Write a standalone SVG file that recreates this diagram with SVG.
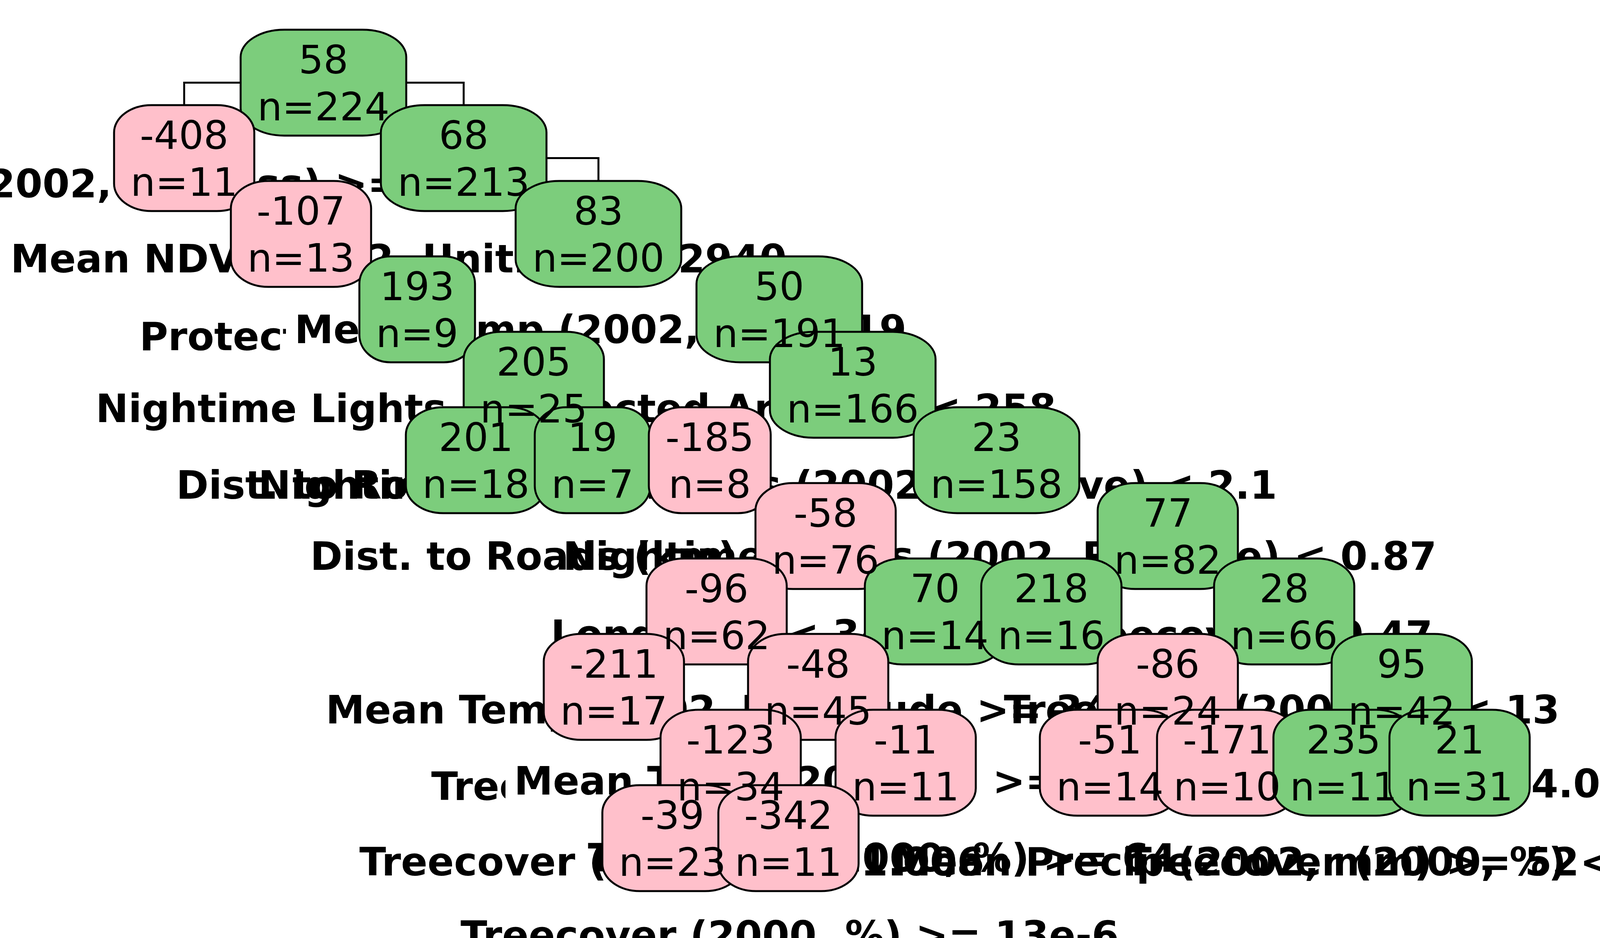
<svg xmlns="http://www.w3.org/2000/svg" width="4200" height="2400" viewBox="0 0 4200 2400">
<style>
.bgc{fill:#ffffff}
.cn{fill:none;stroke:#000;stroke-width:5}
.box{stroke:#000;stroke-width:5}
.g{fill:#7CCD7C}
.p{fill:#FFC0CB}
.v{font-family:"DejaVu Sans",sans-serif;font-size:100px;text-anchor:middle;fill:#000}
.lb{font-family:"DejaVu Sans",sans-serif;font-weight:bold;font-size:100px;fill:#000}
.ob{fill:#ffffff}
</style>
<rect x="0" y="0" width="4200" height="2400" fill="#ffffff"/>
<g id="connectors" class="cn">
<path d="M471.5,269 V211.5 H1187 V269"/>
<path d="M770.5,463 V404.5 H1532 V463"/>
<path d="M1068,656 V598.5 H1995 V656"/>
<path d="M1366.5,849 V791.5 H2183 V849"/>
<path d="M1218.5,1042 V984.5 H1517 V1042"/>
<path d="M1817,1042 V984.5 H2551 V1042"/>
<path d="M2113.5,1236 V1177.5 H2989.5 V1236"/>
<path d="M1834.5,1429 V1371.5 H2393.5 V1429"/>
<path d="M2691.5,1429 V1371.5 H3287.5 V1429"/>
<path d="M1571.5,1622 V1564.5 H2094.5 V1622"/>
<path d="M2989.5,1622 V1564.5 H3588.5 V1622"/>
<path d="M1870.5,1816 V1757.5 H2318.5 V1816"/>
<path d="M2841.5,1816 V1757.5 H3141.5 V1816"/>
<path d="M3439.5,1816 V1757.5 H3736.5 V1816"/>
<path d="M1721.5,2009 V1951.5 H2018.5 V2009"/>
</g>
<g id="label-backgrounds" class="bgc">
<rect x="-755" y="395" width="2115" height="145"/>
<rect x="5" y="587" width="2031" height="145"/>
<rect x="335" y="786" width="1567" height="145"/>
<rect x="732" y="768" width="1592" height="145"/>
<rect x="223" y="970" width="1356" height="145"/>
<rect x="1243" y="970" width="1483" height="145"/>
<rect x="429" y="1166" width="1548" height="145"/>
<rect x="639" y="1166" width="1426" height="145"/>
<rect x="1080" y="1166" width="2212" height="145"/>
<rect x="772" y="1348" width="1465" height="145"/>
<rect x="1419" y="1348" width="2281" height="145"/>
<rect x="1388" y="1550" width="904" height="145"/>
<rect x="2693" y="1550" width="1008" height="145"/>
<rect x="812" y="1741" width="1592" height="145"/>
<rect x="1875" y="1741" width="988" height="145"/>
<rect x="2548" y="1741" width="1478" height="145"/>
<rect x="1082" y="1937" width="1561" height="145"/>
<rect x="1294" y="1923" width="1592" height="145"/>
<rect x="2812" y="1930" width="1457" height="145"/>
<rect x="898" y="2130" width="1655" height="145"/>
<rect x="1483" y="2120" width="1561" height="145"/>
<rect x="2262" y="2130" width="1780" height="145"/>
<rect x="2858" y="2130" width="1478" height="145"/>
<rect x="1157" y="2318" width="1740" height="145"/>
</g>
<g id="split-labels" class="lb">
<text x="-733" y="505">Mean NDVI (2002, Unitless) &gt;= 2940</text>
<text x="27" y="697">Mean NDVI (2002, Unitless) &lt; 2940</text>
<text x="357" y="896">Protected Area (%) &gt;= 258</text>
<rect class="ob" x="732" y="768" width="1592" height="145"/>
<text x="754" y="878">Mean Temp (2002, C) &gt;= 19</text>
<text x="245" y="1080">Nightime Lights &gt;= 2.1</text>
<rect class="ob" x="1243" y="970" width="1483" height="145"/>
<text x="1265" y="1080">Protected Area (%) &lt; 258</text>
<text x="451" y="1276">Dist. to Roads (km) &gt;= 3.4</text>
<text x="661" y="1276">Nightime Lights &gt;= 0.87</text>
<rect class="ob" x="1080" y="1166" width="2212" height="145"/>
<text x="1102" y="1276">Nightime Lights (2002, Relative) &lt; 2.1</text>
<text x="794" y="1458">Dist. to Roads (km) &lt; 3.4</text>
<text x="1441" y="1458">Nightime Lights (2002, Relative) &lt; 0.87</text>
<text x="1410" y="1658">Longitude &lt; 34</text>
<text x="2715" y="1660">Treecover &lt; 0.47</text>
<text x="834" y="1851">Mean Temp (2002, C) &gt;= 22</text>
<rect class="ob" x="1875" y="1741" width="988" height="145"/>
<text x="1897" y="1851">Longitude &gt;= 34</text>
<text x="2570" y="1851">Treecover (2000, %) &lt; 13</text>
<text x="1104" y="2047">Treecover (2000, %) &gt;= 13</text>
<rect class="ob" x="1294" y="1923" width="1592" height="145"/>
<text x="1316" y="2033">Mean Temp (2002, C) &gt;= 22</text>
<text x="2834" y="2040">Treecover (%) &gt;= 14.001</text>
<text x="920" y="2240">Treecover (2000, %) &lt; 1.006</text>
<text x="1505" y="2230">Treecover (2000, %) &gt;= 64</text>
<text x="2284" y="2240">Mean Precip (2002, mm) &gt;= 52</text>
<text x="2880" y="2240">Treecover (2000, %) &lt; 64</text>
<text x="1179" y="2428">Treecover (2000, %) &gt;= 13e-6</text>
</g>
<g id="nodes" class="box">
<g id="node-1"><rect class="g" x="616" y="76" width="424" height="271" rx="112" ry="70"/></g>
<g id="node-2"><rect class="p" x="292" y="269" width="359" height="271" rx="96" ry="70"/></g>
<g id="node-3"><rect class="g" x="975" y="269" width="424" height="271" rx="112" ry="70"/></g>
<g id="node-6"><rect class="p" x="591" y="463" width="359" height="271" rx="96" ry="70"/></g>
<g id="node-7"><rect class="g" x="1320" y="463" width="424" height="271" rx="112" ry="70"/></g>
<g id="node-14"><rect class="g" x="920" y="656" width="296" height="271" rx="80" ry="70"/></g>
<g id="node-15"><rect class="g" x="1783" y="656" width="424" height="271" rx="112" ry="70"/></g>
<g id="node-30"><rect class="g" x="1187" y="849" width="359" height="271" rx="96" ry="70"/></g>
<g id="node-31"><rect class="g" x="1971" y="849" width="424" height="271" rx="112" ry="70"/></g>
<g id="node-60"><rect class="g" x="1039" y="1042" width="359" height="271" rx="96" ry="70"/></g>
<g id="node-61"><rect class="g" x="1369" y="1042" width="296" height="271" rx="80" ry="70"/></g>
<g id="node-62"><rect class="p" x="1661" y="1042" width="312" height="271" rx="84" ry="70"/></g>
<g id="node-63"><rect class="g" x="2339" y="1042" width="424" height="271" rx="112" ry="70"/></g>
<g id="node-126"><rect class="p" x="1934" y="1236" width="359" height="271" rx="96" ry="70"/></g>
<g id="node-127"><rect class="g" x="2810" y="1236" width="359" height="271" rx="96" ry="70"/></g>
<g id="node-252"><rect class="p" x="1655" y="1429" width="359" height="271" rx="96" ry="70"/></g>
<g id="node-253"><rect class="g" x="2214" y="1429" width="359" height="271" rx="96" ry="70"/></g>
<g id="node-254"><rect class="g" x="2512" y="1429" width="359" height="271" rx="96" ry="70"/></g>
<g id="node-255"><rect class="g" x="3108" y="1429" width="359" height="271" rx="96" ry="70"/></g>
<g id="node-504"><rect class="p" x="1392" y="1622" width="359" height="271" rx="96" ry="70"/></g>
<g id="node-505"><rect class="p" x="1915" y="1622" width="359" height="271" rx="96" ry="70"/></g>
<g id="node-510"><rect class="p" x="2810" y="1622" width="359" height="271" rx="96" ry="70"/></g>
<g id="node-511"><rect class="g" x="3409" y="1622" width="359" height="271" rx="96" ry="70"/></g>
<g id="node-1010"><rect class="p" x="1691" y="1816" width="359" height="271" rx="96" ry="70"/></g>
<g id="node-1011"><rect class="p" x="2139" y="1816" width="359" height="271" rx="96" ry="70"/></g>
<g id="node-1020"><rect class="p" x="2662" y="1816" width="359" height="271" rx="96" ry="70"/></g>
<g id="node-1021"><rect class="p" x="2962" y="1816" width="359" height="271" rx="96" ry="70"/></g>
<g id="node-1022"><rect class="g" x="3260" y="1816" width="359" height="271" rx="96" ry="70"/></g>
<g id="node-1023"><rect class="g" x="3557" y="1816" width="359" height="271" rx="96" ry="70"/></g>
<g id="node-2020"><rect class="p" x="1542" y="2009" width="359" height="271" rx="96" ry="70"/></g>
<g id="node-2021"><rect class="p" x="1839" y="2009" width="359" height="271" rx="96" ry="70"/></g>
</g>
<g id="node-texts" class="v">
<g id="node-1-text"><text x="828" y="188">58</text><text x="828" y="308">n=224</text></g>
<g id="node-2-text"><text x="471.5" y="381">-408</text><text x="471.5" y="501">n=11</text></g>
<g id="node-3-text"><text x="1187" y="381">68</text><text x="1187" y="501">n=213</text></g>
<g id="node-6-text"><text x="770.5" y="575">-107</text><text x="770.5" y="695">n=13</text></g>
<g id="node-7-text"><text x="1532" y="575">83</text><text x="1532" y="695">n=200</text></g>
<g id="node-14-text"><text x="1068" y="768">193</text><text x="1068" y="888">n=9</text></g>
<g id="node-15-text"><text x="1995" y="768">50</text><text x="1995" y="888">n=191</text></g>
<g id="node-30-text"><text x="1366.5" y="961">205</text><text x="1366.5" y="1081">n=25</text></g>
<g id="node-31-text"><text x="2183" y="961">13</text><text x="2183" y="1081">n=166</text></g>
<g id="node-60-text"><text x="1218.5" y="1154">201</text><text x="1218.5" y="1274">n=18</text></g>
<g id="node-61-text"><text x="1517" y="1154">19</text><text x="1517" y="1274">n=7</text></g>
<g id="node-62-text"><text x="1817" y="1154">-185</text><text x="1817" y="1274">n=8</text></g>
<g id="node-63-text"><text x="2551" y="1154">23</text><text x="2551" y="1274">n=158</text></g>
<g id="node-126-text"><text x="2113.5" y="1348">-58</text><text x="2113.5" y="1468">n=76</text></g>
<g id="node-127-text"><text x="2989.5" y="1348">77</text><text x="2989.5" y="1468">n=82</text></g>
<g id="node-252-text"><text x="1834.5" y="1541">-96</text><text x="1834.5" y="1661">n=62</text></g>
<g id="node-253-text"><text x="2393.5" y="1541">70</text><text x="2393.5" y="1661">n=14</text></g>
<g id="node-254-text"><text x="2691.5" y="1541">218</text><text x="2691.5" y="1661">n=16</text></g>
<g id="node-255-text"><text x="3287.5" y="1541">28</text><text x="3287.5" y="1661">n=66</text></g>
<g id="node-504-text"><text x="1571.5" y="1734">-211</text><text x="1571.5" y="1854">n=17</text></g>
<g id="node-505-text"><text x="2094.5" y="1734">-48</text><text x="2094.5" y="1854">n=45</text></g>
<g id="node-510-text"><text x="2989.5" y="1734">-86</text><text x="2989.5" y="1854">n=24</text></g>
<g id="node-511-text"><text x="3588.5" y="1734">95</text><text x="3588.5" y="1854">n=42</text></g>
<g id="node-1010-text"><text x="1870.5" y="1928">-123</text><text x="1870.5" y="2048">n=34</text></g>
<g id="node-1011-text"><text x="2318.5" y="1928">-11</text><text x="2318.5" y="2048">n=11</text></g>
<g id="node-1020-text"><text x="2841.5" y="1928">-51</text><text x="2841.5" y="2048">n=14</text></g>
<g id="node-1021-text"><text x="3141.5" y="1928">-171</text><text x="3141.5" y="2048">n=10</text></g>
<g id="node-1022-text"><text x="3439.5" y="1928">235</text><text x="3439.5" y="2048">n=11</text></g>
<g id="node-1023-text"><text x="3736.5" y="1928">21</text><text x="3736.5" y="2048">n=31</text></g>
<g id="node-2020-text"><text x="1721.5" y="2121">-39</text><text x="1721.5" y="2241">n=23</text></g>
<g id="node-2021-text"><text x="2018.5" y="2121">-342</text><text x="2018.5" y="2241">n=11</text></g>
</g>
</svg>
